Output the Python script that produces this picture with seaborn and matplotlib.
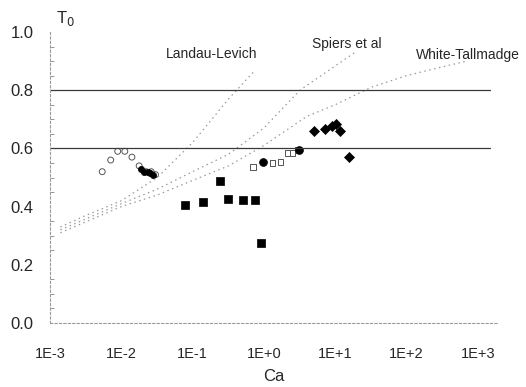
import numpy as np
import pandas as pd
import matplotlib
matplotlib.use("Agg")
import matplotlib.pyplot as plt
import seaborn as sns

# Theory curves: (Ca, T0) pairs
ll_ca = [1.4e-3, 3.2e-3, 1e-2, 3.2e-2, 1e-1, 3.2e-1, 0.76]
ll_t0 = [0.33, 0.37, 0.42, 0.50, 0.62, 0.77, 0.87]

spiers_ca = [1.4e-3, 1e-2, 3.2e-2, 1e-1, 3.2e-1, 1.0, 3.2, 19.0]
spiers_t0 = [0.32, 0.41, 0.46, 0.52, 0.58, 0.67, 0.80, 0.93]

wt_ca = [1.4e-3, 1e-2, 3.2e-2, 1e-1, 3.2e-1, 1.0, 4.0, 10.0, 32.0, 100.0, 316.0, 700.0]
wt_t0 = [0.31, 0.40, 0.44, 0.49, 0.54, 0.61, 0.71, 0.75, 0.81, 0.85, 0.88, 0.90]

# Open circles (low Ca series)
circ_ca = [0.0054, 0.0071, 0.0089, 0.0112, 0.0141, 0.0178, 0.0224, 0.0263, 0.0302]
circ_t0 = [0.52, 0.56, 0.59, 0.59, 0.57, 0.54, 0.52, 0.52, 0.51]

# Small filled dots
dot_ca = [0.0191, 0.0209, 0.0234, 0.0251, 0.0275]
dot_t0 = [0.53, 0.52, 0.52, 0.515, 0.51]

# Filled squares
sq_ca = [0.078, 0.141, 0.240, 0.316, 0.513, 0.741, 0.923]
sq_t0 = [0.405, 0.416, 0.488, 0.426, 0.423, 0.423, 0.275]

# Open squares
osq_ca = [0.71, 1.32, 1.70, 2.14, 2.51, 3.0]
osq_t0 = [0.536, 0.55, 0.553, 0.584, 0.584, 0.594]

# Filled circles
fc_ca = [0.98, 3.16]
fc_t0 = [0.553, 0.594]

# Filled diamonds
dia_ca = [5.1, 7.2, 9.1, 10.2, 11.7, 15.8]
dia_t0 = [0.66, 0.667, 0.677, 0.684, 0.66, 0.57]

x_ticks = [1e-3, 1e-2, 1e-1, 1e0, 1e1, 1e2, 1e3]
x_tick_labels = ["1E-3", "1E-2", "1E-1", "1E+0", "1E+1", "1E+2", "1E+3"]
y_ticks = [0.0, 0.2, 0.4, 0.6, 0.8, 1.0]
ref_levels = [0.6, 0.8]

sns.set_style("white")
plt.rcParams["font.family"] = ["Liberation Sans", "DejaVu Sans"]

fig = plt.figure(figsize=(5.26, 3.87), dpi=100)
ax = fig.add_axes([50 / 526, 64 / 387, 447 / 526, 291 / 387])
ax.set_xscale("log")

curves = pd.concat([
    pd.DataFrame({"Ca": ll_ca, "T0": ll_t0, "model": "Landau-Levich"}),
    pd.DataFrame({"Ca": spiers_ca, "T0": spiers_t0, "model": "Spiers et al"}),
    pd.DataFrame({"Ca": wt_ca, "T0": wt_t0, "model": "White-Tallmadge"}),
])
sns.lineplot(data=curves, x="Ca", y="T0", units="model", estimator=None,
             sort=False, color="#9a9a9a", linestyle=(0, (1.2, 2.8)),
             linewidth=0.9, ax=ax, legend=False)

for lvl in ref_levels:
    ax.plot([1e-3, 10 ** 3.17], [lvl, lvl], color="#3a3a3a", lw=0.9,
            linestyle="-")

sns.scatterplot(x=circ_ca, y=circ_t0, marker="o", s=18, facecolor="none",
                edgecolor="#555555", linewidth=0.7, ax=ax)
sns.scatterplot(x=dot_ca, y=dot_t0, marker="o", s=20, color="black",
                edgecolor="black", linewidth=0.5, ax=ax)
sns.scatterplot(x=osq_ca, y=osq_t0, marker="s", s=16, facecolor="none",
                edgecolor="#555555", linewidth=0.7, ax=ax)
sns.scatterplot(x=sq_ca, y=sq_t0, marker="s", s=36, color="black",
                edgecolor="black", linewidth=0.5, ax=ax)
sns.scatterplot(x=fc_ca, y=fc_t0, marker="o", s=32, color="black",
                edgecolor="black", linewidth=0.5, ax=ax)
sns.scatterplot(x=dia_ca, y=dia_t0, marker="D", s=26, color="black",
                edgecolor="black", linewidth=0.5, ax=ax)

ax.set_xlim(1e-3, 10 ** 3.27)
ax.set_ylim(0.0, 1.0)

ax.set_xticks(x_ticks)
ax.set_xticklabels(x_tick_labels, fontsize=10.5)
ax.xaxis.set_minor_locator(matplotlib.ticker.NullLocator())
ax.tick_params(axis="x", length=0, pad=17)

ax.set_yticks(y_ticks)
ax.set_yticklabels([f"{v:.1f}" for v in y_ticks], fontsize=12)
ax.yaxis.set_minor_locator(matplotlib.ticker.MultipleLocator(0.05))
ax.tick_params(axis="y", which="major", direction="out", length=9,
               width=0.8, color="#666666", pad=3)
ax.tick_params(axis="y", which="minor", direction="in", length=3,
               width=0.6, color="#888888", left=True)

for side in ["top", "right"]:
    ax.spines[side].set_visible(False)
for side in ["left", "bottom"]:
    ax.spines[side].set_color("#9a9a9a")
    ax.spines[side].set_linewidth(0.8)
    ax.spines[side].set_linestyle((0, (2, 2)))

ax.set_xlabel("Ca", fontsize=12, labelpad=6)
ax.set_ylabel("")
ax.text(1.2e-3, 1.015, "T$_0$", fontsize=12, ha="left", va="bottom")

ax.text(0.042, 0.923, "Landau-Levich", fontsize=10, ha="left", va="center")
ax.text(4.7, 0.958, "Spiers et al", fontsize=10, ha="left", va="center")
ax.text(135, 0.92, "White-Tallmadge", fontsize=10, ha="left", va="center",
        clip_on=False)

fig.savefig("out.png", dpi=100, facecolor="white")
